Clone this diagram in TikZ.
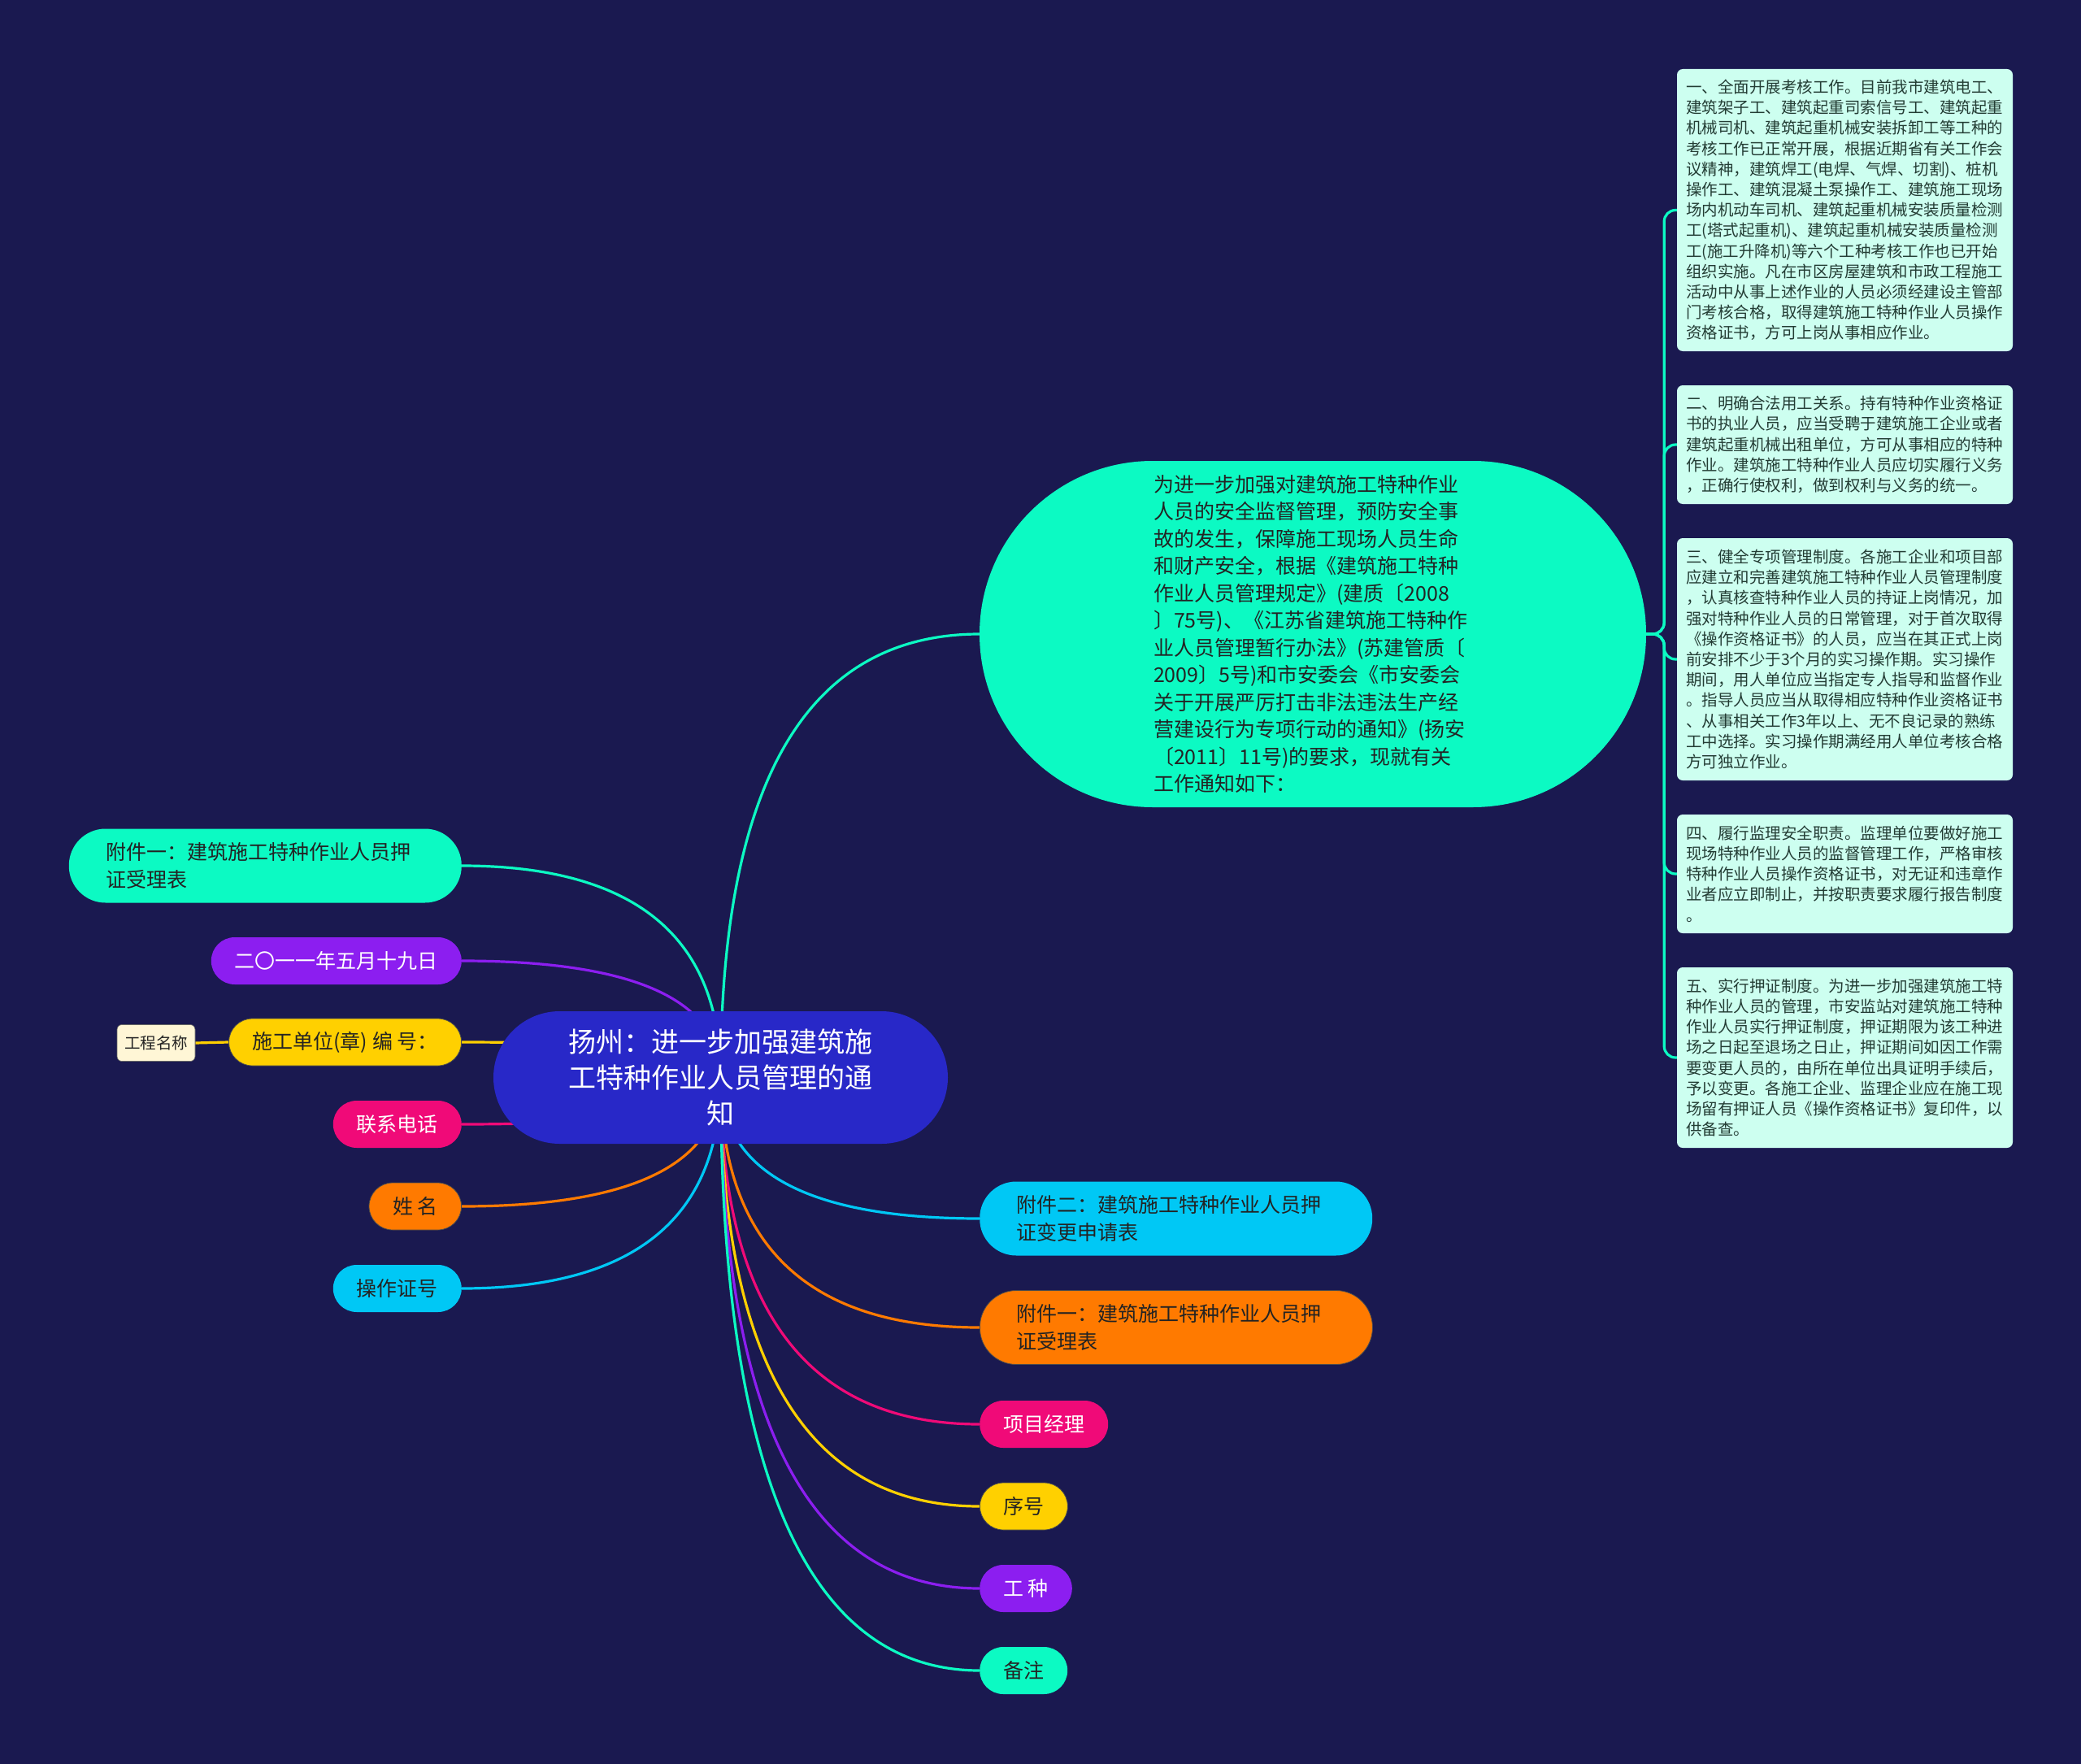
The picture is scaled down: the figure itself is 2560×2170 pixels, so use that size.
\documentclass[tikz,border=0pt]{standalone}
\usepackage{fontspec}
\setmainfont{Noto Sans CJK SC}
\usetikzlibrary{calc}
\definecolor{bgc}{RGB}{26,25,80}
\definecolor{rootc}{RGB}{40,40,200}
\definecolor{tealc}{RGB}{12,250,195}
\definecolor{purc}{RGB}{140,30,240}
\definecolor{yelc}{RGB}{255,208,0}
\definecolor{pinkc}{RGB}{240,10,120}
\definecolor{orac}{RGB}{255,122,0}
\definecolor{cyac}{RGB}{0,200,245}
\definecolor{boxc}{RGB}{205,255,240}
\definecolor{boxtext}{RGB}{35,60,52}
\definecolor{creamc}{RGB}{255,246,214}
\definecolor{darktext}{RGB}{35,35,35}
\pgfdeclarelayer{bgl}
\pgfdeclarelayer{edgel}
\pgfsetlayers{bgl,edgel,main}
\newcommand{\branchto}[3]{%
  \draw[edge,#1] (root.center) .. controls ($(root.center)!0.6667!(root.center |- #2.#3)$) and ($(#2.#3)!0.6667!(root.center |- #2.#3)$) .. (#2.#3);}
\begin{document}
\begin{tikzpicture}[x=1pt,y=-1pt,
  pill/.style={rectangle, rounded corners=29pt, minimum height=58pt, inner xsep=29pt, inner ysep=0pt, font=\fontsize{25}{34}\selectfont},
  pilltwo/.style={rectangle, rounded corners=45pt, minimum height=91pt, text width=392pt, inner xsep=45.5pt, inner ysep=0pt, align=left, font=\fontsize{25}{34}\selectfont},
  notebox/.style={rectangle, rounded corners=7pt, fill=boxc, text=boxtext, text width=391pt, inner xsep=11pt, inner ysep=0pt, align=left, font=\fontsize{19.5}{25.2}\selectfont},
  edge/.style={line width=3.2pt},
]
\useasboundingbox (0,0) rectangle (2560,2170);
\begin{pgfonlayer}{bgl}
\fill[bgc] (0,0) rectangle (2560,2170);
\end{pgfonlayer}

% root
\node[rectangle, rounded corners=81.5pt, minimum width=559pt, minimum height=163pt, fill=rootc, text=white, align=center, inner sep=0pt, font=\fontsize{34}{44}\selectfont] (root) at (886.5,1325.5) {扬州：进一步加强建筑施\\工特种作业人员管理的通\\知};

% big intro node
\node[rectangle, rounded corners=213pt, minimum width=820pt, minimum height=426pt, fill=tealc, text=darktext, text width=392pt, align=left, inner sep=0pt, font=\fontsize{25}{33.5}\selectfont] (big) at (1615,780) {为进一步加强对建筑施工特种作业\\人员的安全监督管理，预防安全事\\故的发生，保障施工现场人员生命\\和财产安全，根据《建筑施工特种\\作业人员管理规定》(建质〔2008\\〕75号)、《江苏省建筑施工特种作\\业人员管理暂行办法》(苏建管质〔\\2009〕5号)和市安委会《市安委会\\关于开展严厉打击非法违法生产经\\营建设行为专项行动的通知》(扬安\\〔2011〕11号)的要求，现就有关\\工作通知如下：};

% left nodes
\node[pilltwo, fill=tealc, text=darktext, anchor=east] (l1) at (568,1065) {附件一：建筑施工特种作业人员押\\证受理表};
\node[pill, fill=purc, text=white, anchor=east] (l2) at (568,1182) {二〇一一年五月十九日};
\node[pill, fill=yelc, text=darktext, anchor=east, draw=black!70, line width=0.8pt] (l3) at (568,1282) {施工单位(章) 编 号：};
\node[pill, fill=pinkc, text=white, anchor=east] (l4) at (568,1383) {联系电话};
\node[pill, fill=orac, text=darktext, anchor=east, draw=black!70, line width=0.8pt] (l5) at (568,1484) {姓 名};
\node[pill, fill=cyac, text=darktext, anchor=east] (l6) at (568,1585) {操作证号};
\node[rectangle, rounded corners=6pt, fill=creamc, draw=black!60, line width=0.6pt, minimum width=96pt, minimum height=45pt, inner sep=0pt, font=\fontsize{19.5}{24}\selectfont, text=darktext] (gc) at (192,1283) {工程名称};

% right lower nodes
\node[pilltwo, fill=cyac, text=darktext, anchor=west] (r1) at (1205,1499) {附件二：建筑施工特种作业人员押\\证变更申请表};
\node[pilltwo, fill=orac, text=darktext, anchor=west, draw=black!70, line width=0.8pt] (r2) at (1205,1633) {附件一：建筑施工特种作业人员押\\证受理表};
\node[pill, fill=pinkc, text=white, anchor=west] (r3) at (1205,1752) {项目经理};
\node[pill, fill=yelc, text=darktext, anchor=west, draw=black!70, line width=0.8pt] (r4) at (1205,1853) {序号};
\node[pill, fill=purc, text=white, anchor=west] (r5) at (1205,1954) {工 种};
\node[pill, fill=tealc, text=darktext, anchor=west] (r6) at (1205,2055) {备注};

% note boxes
\node[notebox, minimum height=347pt] (na) at (2269.5,258.5) {一、全面开展考核工作。目前我市建筑电工、\\建筑架子工、建筑起重司索信号工、建筑起重\\机械司机、建筑起重机械安装拆卸工等工种的\\考核工作已正常开展，根据近期省有关工作会\\议精神，建筑焊工(电焊、气焊、切割)、桩机\\操作工、建筑混凝土泵操作工、建筑施工现场\\场内机动车司机、建筑起重机械安装质量检测\\工(塔式起重机)、建筑起重机械安装质量检测\\工(施工升降机)等六个工种考核工作也已开始\\组织实施。凡在市区房屋建筑和市政工程施工\\活动中从事上述作业的人员必须经建设主管部\\门考核合格，取得建筑施工特种作业人员操作\\资格证书，方可上岗从事相应作业。};
\node[notebox, minimum height=146pt] (nb) at (2269.5,547) {二、明确合法用工关系。持有特种作业资格证\\书的执业人员，应当受聘于建筑施工企业或者\\建筑起重机械出租单位，方可从事相应的特种\\作业。建筑施工特种作业人员应切实履行义务\\，正确行使权利，做到权利与义务的统一。};
\node[notebox, minimum height=298pt] (nc) at (2269.5,811) {三、健全专项管理制度。各施工企业和项目部\\应建立和完善建筑施工特种作业人员管理制度\\，认真核查特种作业人员的持证上岗情况，加\\强对特种作业人员的日常管理，对于首次取得\\《操作资格证书》的人员，应当在其正式上岗\\前安排不少于3个月的实习操作期。实习操作\\期间，用人单位应当指定专人指导和监督作业\\。指导人员应当从取得相应特种作业资格证书\\、从事相关工作3年以上、无不良记录的熟练\\工中选择。实习操作期满经用人单位考核合格\\方可独立作业。};
\node[notebox, minimum height=146pt] (nd) at (2269.5,1075) {四、履行监理安全职责。监理单位要做好施工\\现场特种作业人员的监督管理工作，严格审核\\特种作业人员操作资格证书，对无证和违章作\\业者应立即制止，并按职责要求履行报告制度\\。};
\node[notebox, minimum height=222pt] (ne) at (2269.5,1301) {五、实行押证制度。为进一步加强建筑施工特\\种作业人员的管理，市安监站对建筑施工特种\\作业人员实行押证制度，押证期限为该工种进\\场之日起至退场之日止，押证期间如因工作需\\要变更人员的，由所在单位出具证明手续后，\\予以变更。各施工企业、监理企业应在施工现\\场留有押证人员《操作资格证书》复印件，以\\供备查。};

% connectors
\begin{pgfonlayer}{edgel}
\branchto{tealc}{big}{west}
\branchto{tealc}{l1}{east}
\branchto{purc}{l2}{east}
\branchto{yelc}{l3}{east}
\branchto{pinkc}{l4}{east}
\branchto{orac}{l5}{east}
\branchto{cyac}{l6}{east}
\branchto{cyac}{r1}{west}
\branchto{orac}{r2}{west}
\branchto{pinkc}{r3}{west}
\branchto{yelc}{r4}{west}
\branchto{purc}{r5}{west}
\branchto{tealc}{r6}{west}
\draw[edge,yelc] (l3.west) -- (gc.east);
\draw[edge,tealc,rounded corners=14pt] (big.east) -- ++(22,0) |- (na.west);
\draw[edge,tealc,rounded corners=14pt] (big.east) -- ++(22,0) |- (nb.west);
\draw[edge,tealc,rounded corners=14pt] (big.east) -- ++(22,0) |- (nc.west);
\draw[edge,tealc,rounded corners=14pt] (big.east) -- ++(22,0) |- (nd.west);
\draw[edge,tealc,rounded corners=14pt] (big.east) -- ++(22,0) |- (ne.west);
\end{pgfonlayer}
\end{tikzpicture}
\end{document}
